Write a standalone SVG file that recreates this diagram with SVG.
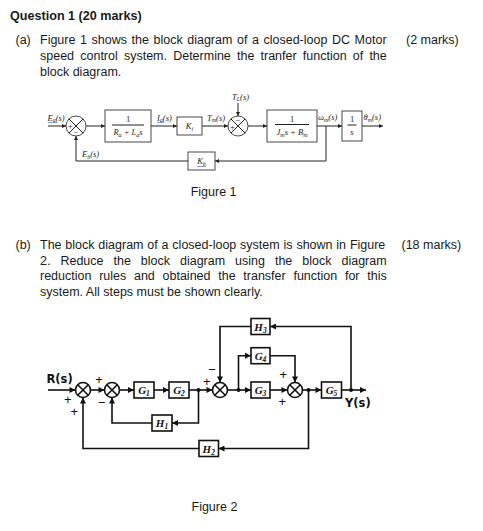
<svg xmlns="http://www.w3.org/2000/svg" width="483" height="531" viewBox="0 0 483 531">
<defs>
<style>
.body{font-family:"Liberation Sans",Arial,sans-serif;font-size:12.5px;fill:#1a1a1a}
.hd{font-family:"Liberation Sans",Arial,sans-serif;font-size:12.6px;font-weight:bold;fill:#1a1a1a}
.f1l{font-family:"Liberation Serif","Times New Roman",serif;font-style:italic;font-size:8.5px;fill:#222}
.f1n{font-family:"Liberation Serif","Times New Roman",serif;font-size:8.5px;fill:#222}
.w1{fill:none;stroke:#222;stroke-width:1}
.b1{fill:#fff;stroke:#333;stroke-width:0.9}
.w2{fill:none;stroke:#111;stroke-width:1.6}
.b2{fill:#fff;stroke:#111;stroke-width:1.6}
.g2{font-family:"Liberation Serif","Times New Roman",serif;font-style:italic;font-weight:bold;font-size:11px;fill:#111;text-anchor:middle}
.sg{font-family:"Liberation Sans",Arial,sans-serif;font-size:13px;fill:#111;text-anchor:middle}
.io{font-family:"DejaVu Sans",Verdana,sans-serif;font-weight:bold;font-size:11.5px;fill:#111}
.ul{stroke:#6b85c8;stroke-width:0.8}
</style>
<marker id="a1" viewBox="0 0 10 10" refX="10" refY="5" markerWidth="5" markerHeight="4" markerUnits="userSpaceOnUse" orient="auto"><path d="M0,0 L10,5 L0,10 z" fill="#222"/></marker>
<marker id="a2" viewBox="0 0 10 10" refX="10" refY="5" markerWidth="7" markerHeight="6" markerUnits="userSpaceOnUse" orient="auto"><path d="M0,0 L10,5 L0,10 z" fill="#111"/></marker>
</defs>
<rect width="483" height="531" fill="#fff"/>

<!-- Question text -->
<g id="question-text">
<text class="hd" x="10" y="20">Question 1 (20 marks)</text>
<text class="body" x="15.5" y="44.3">(a)</text>
<text class="body" x="40" y="44.3" word-spacing="1.1">Figure 1 shows the block diagram of a closed-loop DC Motor</text>
<text class="body" x="406" y="44.3">(2 marks)</text>
<text class="body" x="40" y="60" word-spacing="2.7">speed control system. Determine the tranfer function of the</text>
<text class="body" x="40" y="75.5">block diagram.</text>
<text class="body" x="15.5" y="249.3">(b)</text>
<text class="body" x="40" y="249.3" word-spacing="0.35">The block diagram of a closed-loop system is shown in Figure</text>
<text class="body" x="401.5" y="249.3">(18 marks)</text>
<text class="body" x="40" y="264.8" word-spacing="6.5">2. Reduce the block diagram using the block diagram</text>
<text class="body" x="40" y="280.3" word-spacing="4.25">reduction rules and obtained the transfer function for this</text>
<text class="body" x="40" y="295.8">system. All steps must be shown clearly.</text>
<text class="body" x="190.7" y="196">Figure 1</text>
<text class="body" x="191.5" y="511.3">Figure 2</text>
</g>

<!-- ===== Figure 1 ===== -->
<g id="fig1-connectors">
<path class="w1" d="M48,126 H66" marker-end="url(#a1)"/>
<path class="w1" d="M86,126 H105" marker-end="url(#a1)"/>
<path class="w1" d="M151,126 H177" marker-end="url(#a1)"/>
<path class="w1" d="M202,126 H228" marker-end="url(#a1)"/>
<path class="w1" d="M238,103 V116" marker-end="url(#a1)"/>
<path class="w1" d="M248,126 H267" marker-end="url(#a1)"/>
<path class="w1" d="M317,126 H342" marker-end="url(#a1)"/>
<path class="w1" d="M362,126 H383" marker-end="url(#a1)"/>
<path class="w1" d="M326,126 V161 H215" marker-end="url(#a1)"/>
<path class="w1" d="M188,161 H76 V136" marker-end="url(#a1)"/>
<text class="f1l" x="47.5" y="120.5">E<tspan dy="1.8" font-size="6">a</tspan><tspan dy="-1.8">(s)</tspan></text>
<line class="ul" x1="48" y1="122.5" x2="57" y2="122.5"/>
<text class="f1l" x="157" y="120.5">I<tspan dy="1.8" font-size="6">a</tspan><tspan dy="-1.8">(s)</tspan></text>
<line class="ul" x1="157" y1="122.5" x2="164" y2="122.5"/>
<text class="f1l" x="207" y="120.5">T<tspan dy="1.8" font-size="6">m</tspan><tspan dy="-1.8">(s)</tspan></text>
<text class="f1l" x="232" y="99.5">T<tspan dy="1.8" font-size="6">L</tspan><tspan dy="-1.8">(s)</tspan></text>
<text class="f1l" x="318" y="120">ω<tspan dy="1.8" font-size="6">m</tspan><tspan dy="-1.8">(s)</tspan></text>
<text class="f1l" x="363.5" y="120">θ<tspan dy="1.8" font-size="6">m</tspan><tspan dy="-1.8">(s)</tspan></text>
<text class="f1l" x="82" y="157">E<tspan dy="1.8" font-size="6">b</tspan><tspan dy="-1.8">(s)</tspan></text>
</g>

<g id="f1-sum1">
<circle class="b1" cx="76" cy="126" r="10"/>
<path class="w1" d="M68.9,118.9 L83.1,133.1 M83.1,118.9 L68.9,133.1"/>
<text class="f1n" x="70.5" y="129" text-anchor="middle">+</text>
<text class="f1n" x="76" y="135" text-anchor="middle">−</text>
</g>
<g id="f1-block1">
<rect class="b1" x="105" y="110" width="46" height="32"/>
<text class="f1n" x="128" y="122" text-anchor="middle">1</text>
<line class="w1" x1="112" y1="125" x2="144" y2="125" stroke-width="0.8"/>
<text class="f1l" x="128" y="135" text-anchor="middle">R<tspan dy="1.5" font-size="6">a</tspan><tspan dy="-1.5"> + L</tspan><tspan dy="1.5" font-size="6">a</tspan><tspan dy="-1.5">s</tspan></text>
</g>
<g id="f1-Ki">
<rect class="b1" x="177" y="117" width="25" height="18"/>
<text class="f1l" x="189.5" y="129" text-anchor="middle">K<tspan dy="1.5" font-size="6">i</tspan></text>
</g>
<g id="f1-sum2">
<circle class="b1" cx="238" cy="126" r="10"/>
<path class="w1" d="M230.9,118.9 L245.1,133.1 M245.1,118.9 L230.9,133.1"/>
<text class="f1n" x="232.5" y="129.5" text-anchor="middle">+</text>
<text class="f1n" x="238" y="122.5" text-anchor="middle">−</text>
</g>
<g id="f1-block3">
<rect class="b1" x="267" y="110" width="50" height="32"/>
<text class="f1n" x="292" y="121.5" text-anchor="middle">1</text>
<line class="w1" x1="275" y1="124.5" x2="309" y2="124.5" stroke-width="0.8"/>
<text class="f1l" x="292" y="135" text-anchor="middle">J<tspan dy="1.5" font-size="6">m</tspan><tspan dy="-1.5">s + B</tspan><tspan dy="1.5" font-size="6">m</tspan></text>
</g>
<g id="f1-integrator">
<rect class="b1" x="342" y="111" width="20" height="30"/>
<text class="f1n" x="352" y="121.5" text-anchor="middle">1</text>
<line class="w1" x1="347.5" y1="125" x2="356.5" y2="125" stroke-width="0.8"/>
<text class="f1l" x="352" y="134.5" text-anchor="middle">s</text>
</g>
<g id="f1-Kb">
<rect class="b1" x="188" y="152" width="27" height="18"/>
<text class="f1l" x="201.5" y="164" text-anchor="middle">K<tspan dy="1.5" font-size="6">b</tspan></text>
<line class="ul" x1="197" y1="166.5" x2="206" y2="166.5"/>
</g>

<!-- ===== Figure 2 ===== -->
<g id="fig2-connectors">
<path class="w2" d="M48,390 H75.5" marker-end="url(#a2)"/>
<path class="w2" d="M90.5,390 H104.5" marker-end="url(#a2)"/>
<path class="w2" d="M119.5,390 H134" marker-end="url(#a2)"/>
<path class="w2" d="M154,390 H169" marker-end="url(#a2)"/>
<path class="w2" d="M189,390 H212.5" marker-end="url(#a2)"/>
<path class="w2" d="M227.5,390 H251" marker-end="url(#a2)"/>
<path class="w2" d="M270,390 H287.5" marker-end="url(#a2)"/>
<path class="w2" d="M238.5,390 V355.7 H251" marker-end="url(#a2)"/>
<path class="w2" d="M270,355.7 H295 V382.5" marker-end="url(#a2)"/>
<path class="w2" d="M302.5,390 H321.5" marker-end="url(#a2)"/>
<path class="w2" d="M341.5,390 H366" marker-end="url(#a2)"/>
<path class="w2" d="M351,390 V326.5 H270" marker-end="url(#a2)"/>
<path class="w2" d="M251,326.5 H220 V382.5" marker-end="url(#a2)"/>
<path class="w2" d="M198.5,390 V423 H172" marker-end="url(#a2)"/>
<path class="w2" d="M152,423 H112 V397.5" marker-end="url(#a2)"/>
<path class="w2" d="M308.5,390 V448.5 H218.5" marker-end="url(#a2)"/>
<path class="w2" d="M199,448.5 H83 V397.5" marker-end="url(#a2)"/>
<circle cx="198.5" cy="390" r="2" fill="#111"/>
<circle cx="238.5" cy="390" r="2" fill="#111"/>
<circle cx="308.5" cy="390" r="2" fill="#111"/>
<circle cx="351" cy="390" r="2" fill="#111"/>
<text class="io" x="46.5" y="382.5">R(s)</text>
<text class="io" x="345" y="406.5">Y(s)</text>
<text class="sg" x="67.7" y="404">+</text>
<text class="sg" x="74.3" y="416.2">+</text>
<text class="sg" x="99" y="383.5">+</text>
<text class="sg" x="101.7" y="407.2">−</text>
<text class="sg" x="206.7" y="386.2">+</text>
<text class="sg" x="212" y="373.5">−</text>
<text class="sg" x="283.3" y="378.8">+</text>
<text class="sg" x="282.3" y="405.5">+</text>
</g>

<g id="f2-sum1">
<circle class="b2" cx="83" cy="390" r="7.5"/>
<path class="w2" d="M77.7,384.7 L88.3,395.3 M88.3,384.7 L77.7,395.3" stroke-width="1.2"/>
</g>
<g id="f2-sum2">
<circle class="b2" cx="112" cy="390" r="7.5"/>
<path class="w2" d="M106.7,384.7 L117.3,395.3 M117.3,384.7 L106.7,395.3" stroke-width="1.2"/>
</g>
<g id="f2-sum3">
<circle class="b2" cx="220" cy="390" r="7.5"/>
<path class="w2" d="M214.7,384.7 L225.3,395.3 M225.3,384.7 L214.7,395.3" stroke-width="1.2"/>
</g>
<g id="f2-sum4">
<circle class="b2" cx="295" cy="390" r="7.5"/>
<path class="w2" d="M289.7,384.7 L300.3,395.3 M300.3,384.7 L289.7,395.3" stroke-width="1.2"/>
</g>
<g id="f2-G1">
<rect class="b2" x="134" y="382" width="20" height="16"/>
<text class="g2" x="144" y="394">G<tspan dy="2" font-size="7.5">1</tspan></text>
</g>
<g id="f2-G2">
<rect class="b2" x="169" y="382" width="20" height="16"/>
<text class="g2" x="179" y="394">G<tspan dy="2" font-size="7.5">2</tspan></text>
</g>
<g id="f2-G3">
<rect class="b2" x="251" y="382" width="19" height="16"/>
<text class="g2" x="260.5" y="394">G<tspan dy="2" font-size="7.5">3</tspan></text>
</g>
<g id="f2-G4">
<rect class="b2" x="251" y="347.7" width="19" height="16"/>
<text class="g2" x="260.5" y="359.7">G<tspan dy="2" font-size="7.5">4</tspan></text>
</g>
<g id="f2-G5">
<rect class="b2" x="321.5" y="382" width="20" height="16"/>
<text class="g2" x="331.5" y="394">G<tspan dy="2" font-size="7.5">5</tspan></text>
</g>
<g id="f2-H1">
<rect class="b2" x="152" y="415" width="20" height="16"/>
<text class="g2" x="162" y="427">H<tspan dy="2" font-size="7.5">1</tspan></text>
</g>
<g id="f2-H2">
<rect class="b2" x="199" y="440.5" width="19.5" height="16"/>
<text class="g2" x="208.75" y="452.5">H<tspan dy="2" font-size="7.5">2</tspan></text>
</g>
<g id="f2-H3">
<rect class="b2" x="251" y="318.5" width="19" height="16"/>
<text class="g2" x="260.5" y="330.5">H<tspan dy="2" font-size="7.5">3</tspan></text>
</g>
</svg>
